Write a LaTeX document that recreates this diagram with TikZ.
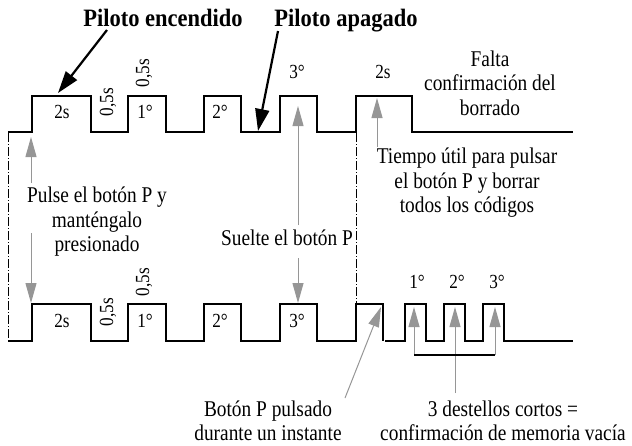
\documentclass[tikz,border=0pt]{standalone}
\usepackage{fontspec}
\setmainfont{Liberation Serif}[FakeStretch=0.86]
\newfontfamily\headfont{Liberation Serif}[FakeStretch=0.9]
\usetikzlibrary{arrows.meta}
\definecolor{agray}{RGB}{150,150,150}
\tikzset{
  wave/.style={line width=2pt, line join=miter},
  garrow/.style={draw=agray, line width=1pt, -{Triangle[length=20pt,width=11pt,fill=agray]}},
  barrow/.style={line width=2.2pt, -{Triangle[length=22pt,width=14pt]}},
  ddot/.style={line width=0.9pt, dash pattern=on 9pt off 2pt on 1pt off 2pt},
  bracket/.style={line width=1.1pt},
  txt/.style={font=\fontsize{22.5}{24.5}\selectfont, inner sep=0pt, align=center},
  lbl/.style={font=\fontsize{20}{22}\selectfont, inner sep=0pt},
  head/.style={font=\headfont\bfseries\fontsize{25}{27}\selectfont, inner sep=0pt},
}
\begin{document}
\begin{tikzpicture}[x=1pt,y=-1pt]
\useasboundingbox (0,0) rectangle (632,445);

% ---------- waveforms ----------
\draw[wave] (8,132) -- (32,132) -- (32,96) -- (91,96) -- (91,132) -- (128,132) -- (128,96) -- (166,96) -- (166,132)
  -- (204,132) -- (204,96) -- (241,96) -- (241,132) -- (280,132) -- (280,96) -- (317,96) -- (317,132)
  -- (356,132) -- (356,96) -- (412,96) -- (412,132) -- (573,132);
\draw[wave] (8,341) -- (32,341) -- (32,304) -- (91,304) -- (91,341) -- (128,341) -- (128,304) -- (166,304) -- (166,341)
  -- (204,341) -- (204,304) -- (241,304) -- (241,341) -- (280,341) -- (280,304) -- (317,304) -- (317,341)
  -- (356,341) -- (356,304) -- (383,304) -- (383,341);
\draw[wave] (385,341) -- (405,341) -- (405,304) -- (426,304) -- (426,341) -- (444,341) -- (444,304) -- (465,304)
  -- (465,341) -- (483,341) -- (483,304) -- (504,304) -- (504,341) -- (573,341);

% ---------- dash-dot guides ----------
\coordinate (gL1) at (8,133);
\coordinate (gL2) at (8,341);
\coordinate (gR1) at (356,133);
\coordinate (gR2) at (356,304);
\draw[ddot] (gL1) -- (gL2);
\draw[ddot] (gR1) -- (gR2);

% ---------- headings ----------
\node[head, anchor=base] (pe) at (163,26) {Piloto encendido};
\node[head, anchor=base] (pa) at (346,26) {Piloto apagado};
\coordinate (peS) at (107,30);
\coordinate (peT) at (58,93);
\coordinate (paS) at (278,31);
\coordinate (paT) at (258,131);
\draw[barrow] (peS) -- (peT);
\draw[barrow] (paS) -- (paT);

% ---------- top labels ----------
\node[lbl, anchor=base] (t2s) at (62,118) {2s};
\node[lbl, rotate=90] (t05a) at (108,102) {0,5s};
\node[lbl, anchor=base] (t1) at (145,118) {1°};
\node[lbl, rotate=90] (t05b) at (144,73) {0,5s};
\node[lbl, anchor=base] (t2) at (220,118) {2°};
\node[lbl, anchor=base] (t3) at (297,78) {3°};
\node[lbl, anchor=base] (t2sb) at (383,78) {2s};
\node[txt] (falta) at (490,83) {Falta\\confirmación del\\borrado};

% ---------- bottom labels ----------
\node[lbl, anchor=base] (b2s) at (62,327) {2s};
\node[lbl, rotate=90] (b05a) at (108,312) {0,5s};
\node[lbl, anchor=base] (b1) at (145,327) {1°};
\node[lbl, rotate=90] (b05b) at (144,282) {0,5s};
\node[lbl, anchor=base] (b2) at (220,327) {2°};
\node[lbl, anchor=base] (b3) at (297,327) {3°};
\node[lbl, anchor=base] (s1) at (417,288) {1°};
\node[lbl, anchor=base] (s2) at (457,288) {2°};
\node[lbl, anchor=base] (s3) at (497,288) {3°};

% ---------- explanatory texts ----------
\node[txt] (pulse) at (97,222) {Pulse el botón P y\\manténgalo\\presionado};
\node[txt, anchor=base] (suelte) at (287,245) {Suelte el botón P};
\node[txt] (tiempo) at (467,183) {Tiempo útil para pulsar\\el botón P y borrar\\todos los códigos};
\node[txt] (boton) at (268,421) {Botón P pulsado\\durante un instante};
\node[txt] (tres) at (503,421) {3 destellos cortos =\\confirmación de memoria vacía};

% ---------- gray arrows ----------
\coordinate (a1s) at (31,183);  \coordinate (a1t) at (31,137);
\coordinate (a2s) at (31,233);  \coordinate (a2t) at (31,303);
\coordinate (a3s) at (298,225); \coordinate (a3t) at (298,106);
\coordinate (a4s) at (298,258); \coordinate (a4t) at (298,303);
\coordinate (a5s) at (377,147); \coordinate (a5t) at (377,98);
\coordinate (a6s) at (345,398); \coordinate (a6t) at (381,307);
\coordinate (a7s) at (414,355); \coordinate (a7t) at (414,307);
\coordinate (a8s) at (455,393); \coordinate (a8t) at (455,307);
\coordinate (a9s) at (495,355); \coordinate (a9t) at (495,307);
\draw[garrow] (a1s) -- (a1t);
\draw[garrow] (a2s) -- (a2t);
\draw[garrow] (a3s) -- (a3t);
\draw[garrow] (a4s) -- (a4t);
\draw[garrow] (a5s) -- (a5t);
\draw[garrow] (a6s) -- (a6t);
\draw[garrow] (a7s) -- (a7t);
\draw[garrow] (a8s) -- (a8t);
\draw[garrow] (a9s) -- (a9t);
\draw[bracket] (a7s) -- (a9s);
\end{tikzpicture}
\end{document}
